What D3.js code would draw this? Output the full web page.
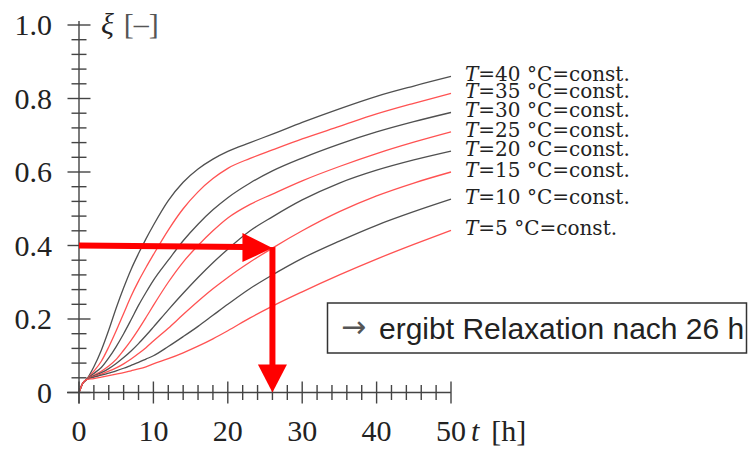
<!doctype html>
<html>

<head>
  <meta charset="utf-8">
  <title>Relaxation</title>
  <style>
    body { margin: 0; background: #fff; }
    text { font-family: "Liberation Serif", "DejaVu Serif", serif; fill: #222; }
  </style>
</head>

<body>
  <svg id="chart" width="752" height="450"></svg>

  <script src="https://d3js.org/d3.v7.min.js"></script>

  <script>
    // --- data ---
    var times = [0, 0.5, 1, 2, 3, 4, 5, 6, 7, 8, 9, 10, 12, 14, 16, 18, 20, 23, 26, 30, 35, 40, 45, 50];
    var temps = [40, 35, 30, 25, 20, 15, 10, 5];
    var xi40 = [0, .025, .035, .07, .115, .17, .23, .285, .335, .378, .418, .455, .522, .572, .608, .635, .656, .68, .703, .735, .772, .806, .834, .86];
    var xi35 = [0, .025, .035, .058, .085, .124, .168, .215, .262, .303, .34, .375, .442, .50, .546, .582, .61, .637, .66, .69, .724, .758, .787, .814];
    var xi30 = [0, .025, .035, .052, .068, .094, .125, .16, .198, .237, .272, .305, .36, .413, .458, .497, .53, .57, .603, .638, .676, .709, .737, .762];
    var xi25 = [0, .025, .035, .047, .058, .072, .09, .115, .142, .172, .204, .237, .30, .355, .40, .44, .475, .512, .54, .576, .615, .65, .681, .709];
    var xi20 = [0, .025, .035, .045, .054, .065, .079, .095, .113, .133, .155, .178, .225, .27, .313, .353, .39, .44, .478, .524, .57, .605, .633, .657];
    var xi15 = [0, .025, .035, .043, .05, .058, .067, .078, .091, .106, .122, .14, .175, .212, .248, .282, .313, .355, .393, .44, .492, .535, .57, .60];
    var xi10 = [0, .025, .035, .042, .047, .053, .059, .066, .074, .082, .091, .10, .125, .152, .18, .21, .24, .283, .32, .365, .412, .455, .492, .526];
    var xi5 = [0, .025, .035, .038, .042, .046, .05, .054, .059, .064, .07, .078, .092, .108, .126, .146, .168, .203, .235, .274, .32, .363, .403, .441];
    var series = [xi40, xi35, xi30, xi25, xi20, xi15, xi10, xi5];

    var xTicks = [0, 10, 20, 30, 40, 50];
    var yTicks = [0, 0.2, 0.4, 0.6, 0.8, 1.0];
    var yTickLabels = ['0', '0.2', '0.4', '0.6', '0.8', '1.0'];

    // reading: xi = 0.4 -> t = 26 h
    var readXi = [0.4, 0.393];
    var readT = 26;
    var note = 'ergibt Relaxation nach 26 h';

    var svg = d3.select('#chart');

    var x = d3.scaleLinear().domain([0, 50]).range([79, 451]);
    var y = d3.scaleLinear().domain([0, 1]).range([392.5, 25]);

    var axisCol = '#444';

    // curves
    var line = d3.line()
      .x(function(d, i) { return x(times[i]); })
      .y(function(d) { return y(d); })
      .curve(d3.curveMonotoneX);

    svg.append('g')
      .selectAll('path')
      .data(series)
      .enter()
      .append('path')
      .attr('d', line)
      .attr('fill', 'none')
      .attr('stroke', function(d, i) { return i % 2 == 0 ? '#505050' : '#ff5252'; })
      .attr('stroke-width', 1.3);

    // curve labels
    var lab = svg.append('g')
      .selectAll('text')
      .data(series)
      .enter()
      .append('text')
      .attr('x', 465)
      .attr('y', function(d) { return y(d[d.length - 1]) + 5; })
      .style('font-family', '"DejaVu Serif", serif')
      .style('font-size', '20px');
    lab.append('tspan').style('font-style', 'italic').text('T');
    lab.append('tspan').text(function(d, i) { return '=' + temps[i] + ' °C=const.'; });

    // axes
    var ax = svg.append('g').attr('stroke', axisCol).attr('stroke-width', 1.4);
    ax.append('line').attr('x1', x(0) - 12).attr('x2', x(50)).attr('y1', y(0)).attr('y2', y(0));
    ax.append('line').attr('x1', x(0)).attr('x2', x(0)).attr('y1', y(0) + 11).attr('y2', y(1) - 4);

    d3.range(0, 51, 2).forEach(function(t) {
      var h = t % 10 == 0 ? 11 : 7.5;
      ax.append('line').attr('x1', x(t)).attr('x2', x(t)).attr('y1', y(0) - h).attr('y2', y(0) + h);
    });
    d3.range(0, 26).forEach(function(k) {
      var v = k * 0.04;
      var h = k % 5 == 0 ? 11.5 : 7.5;
      ax.append('line').attr('x1', x(0) - h).attr('x2', x(0) + h).attr('y1', y(v)).attr('y2', y(v));
    });

    svg.append('g')
      .selectAll('text')
      .data(yTicks)
      .enter()
      .append('text')
      .attr('x', 52)
      .attr('y', function(d) { return y(d) + 10; })
      .attr('text-anchor', 'end')
      .style('font-size', '30px')
      .text(function(d, i) { return yTickLabels[i]; });

    svg.append('g')
      .selectAll('text')
      .data(xTicks)
      .enter()
      .append('text')
      .attr('x', function(d) { return x(d); })
      .attr('y', 441)
      .attr('text-anchor', 'middle')
      .style('font-size', '30px')
      .text(function(d) { return d; });

    // axis titles
    var yt = svg.append('text').attr('x', 101).attr('y', 34).style('font-size', '30px');
    yt.append('tspan').style('font-style', 'italic').text('ξ');
    yt.append('tspan').attr('dx', 10).style('fill', '#555').text('[–]');

    var xt = svg.append('text').attr('x', 471).attr('y', 441).style('font-size', '30px');
    xt.append('tspan').style('font-style', 'italic').text('t');
    xt.append('tspan').attr('dx', 12).text('[h]');

    // red reading arrows
    var red = '#ff0000';
    svg.append('line')
      .attr('x1', x(0)).attr('y1', y(readXi[0]))
      .attr('x2', x(readT) - 28).attr('y2', y(readXi[1]) - 1)
      .attr('stroke', red).attr('stroke-width', 6);
    svg.append('path')
      .attr('d', 'M' + (x(readT) - 30) + ',' + (y(readXi[1]) - 15) +
        'L' + x(readT) + ',' + y(readXi[1]) +
        'L' + (x(readT) - 30) + ',' + (y(readXi[1]) + 14) + 'Z')
      .attr('fill', red);
    svg.append('line')
      .attr('x1', x(readT)).attr('y1', y(readXi[1]) - 1)
      .attr('x2', x(readT)).attr('y2', y(0) - 26)
      .attr('stroke', red).attr('stroke-width', 6);
    svg.append('path')
      .attr('d', 'M' + (x(readT) - 14.5) + ',' + (y(0) - 28) +
        'L' + (x(readT) + 14.5) + ',' + (y(0) - 28) +
        'L' + x(readT) + ',' + y(0) + 'Z')
      .attr('fill', red);

    // note box
    svg.append('rect')
      .attr('x', 327.5).attr('y', 303)
      .attr('width', 419).attr('height', 50)
      .attr('fill', '#fff').attr('stroke', '#333').attr('stroke-width', 1.5);
    svg.append('text')
      .attr('x', 341).attr('y', 337)
      .style('font-family', '"DejaVu Sans", sans-serif')
      .style('font-size', '30px').style('fill', '#555')
      .text('→');
    svg.append('text')
      .attr('x', 379).attr('y', 339)
      .style('font-family', '"Liberation Sans", Arial, sans-serif')
      .style('font-size', '30px')
      .text(note);
  </script>

</body>

</html>
